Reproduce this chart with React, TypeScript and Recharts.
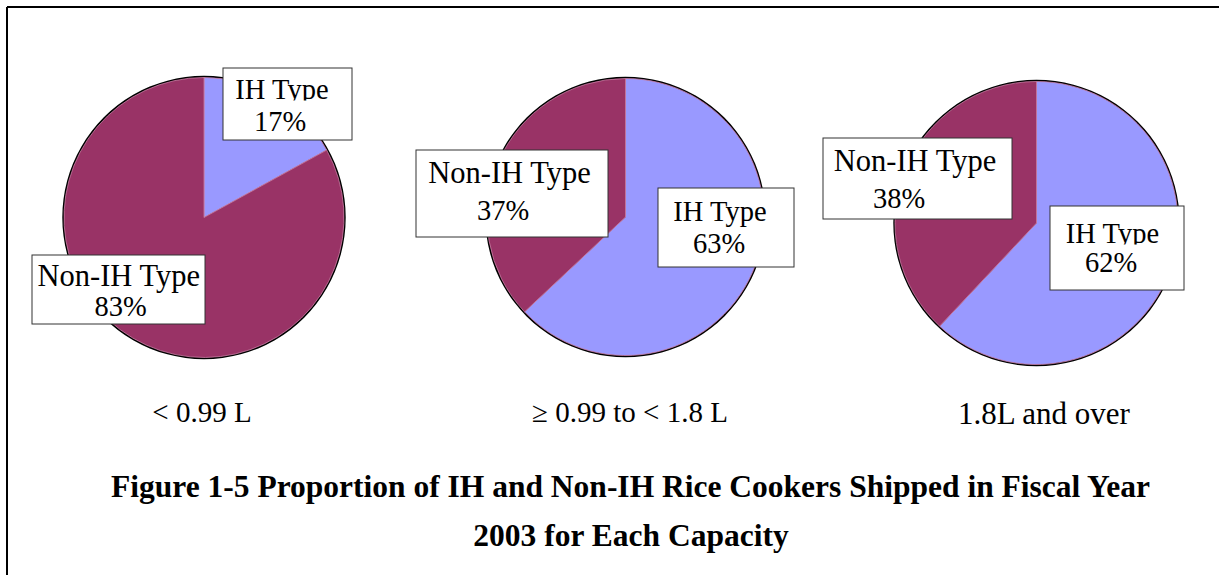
import React from 'react';
import { PieChart, Pie, Cell } from 'recharts';

// ---- data ----
const categories = ['< 0.99 L', '≥ 0.99 to < 1.8 L', '1.8L and over'];
const sliceNames = ['IH Type', 'Non-IH Type'];
const ihShare = [17, 63, 62];
const nonIhShare = [83, 37, 38];
const titleLines = [
  'Figure 1-5 Proportion of IH and Non-IH Rice Cookers Shipped in Fiscal Year',
  '2003 for Each Capacity',
];

// ---- layout / style ----
const W = 1219;
const H = 575;
const COLORS = ['#9999FF', '#993366'];
const FONT = '"Liberation Serif", "Times New Roman", serif';

const PIES = [
  { cx: 204, cy: 217.5, r: 140 },
  { cx: 625.5, cy: 217, r: 138.5 },
  { cx: 1036.5, cy: 223, r: 141.5 },
];
const RING = 1.7;

type Box = {
  x0: number; x1: number; y0: number; y1: number;
  t1: number; t2: number; b1: number; b2: number; clip?: boolean;
};
// label boxes, relative to each pie's centre
const LABEL_BOXES: Box[][] = [
  [
    { x0: 19, x1: 148, y0: -149.5, y1: -77.5, t1: 78, t2: 76, b1: -118.5, b2: -86.5, clip: true },
    { x0: -172, x1: 1, y0: 37.5, y1: 106.5, t1: -85.3, t2: -83.5, b1: 68, b2: 98.5 },
  ],
  [
    { x0: 32.5, x1: 168.5, y0: -29, y1: 50, t1: 94.5, t2: 93.5, b1: 4, b2: 36 },
    { x0: -209.5, x1: -17.5, y0: -67, y1: 20, t1: -116, t2: -122.5, b1: -34, b2: 3 },
  ],
  [
    { x0: 13.5, x1: 147.5, y0: -17, y1: 67, t1: 76, t2: 74.5, b1: 20, b2: 49, clip: true },
    { x0: -213.5, x1: -24.5, y0: -85, y1: -4, t1: -121.5, t2: -137.5, b1: -52, b2: -15 },
  ],
];
const NAME_SIZE = [28.5, 30.5];
const PCT_SIZE = 28.5;
const CAT_LABEL = [
  { x: 202, y: 421.7, size: 29 },
  { x: 630, y: 421.7, size: 29 },
  { x: 1044, y: 424, size: 31 },
];
const TITLE_POS = [
  { x: 630.5, y: 497 },
  { x: 631, y: 546 },
];
const TITLE_SIZE = 31.5;

const makeLabel = (pieIdx: number) => (props: any) => {
  const idx: number = props.index;
  const b = LABEL_BOXES[pieIdx][idx];
  const cx = Number(props.cx);
  const cy = Number(props.cy);
  const clipId = `lblclip-${pieIdx}-${idx}`;
  return (
    <g key={`lbl-${pieIdx}-${idx}`}>
      <rect
        x={cx + b.x0}
        y={cy + b.y0}
        width={b.x1 - b.x0}
        height={b.y1 - b.y0}
        fill="#ffffff"
        stroke="#333333"
        strokeWidth={1}
      />
      {b.clip ? (
        <defs>
          <clipPath id={clipId}>
            <rect x={cx + b.x0} y={cy + b.y0} width={b.x1 - b.x0} height={b.b1 + 1.5 - b.y0} />
          </clipPath>
        </defs>
      ) : null}
      <text
        x={cx + b.t1}
        y={cy + b.b1}
        textAnchor="middle"
        fontFamily={FONT}
        fontSize={NAME_SIZE[idx]}
        fill="#000"
        clipPath={b.clip ? `url(#${clipId})` : undefined}
      >
        {props.name}
      </text>
      <text
        x={cx + b.t2}
        y={cy + b.b2}
        textAnchor="middle"
        fontFamily={FONT}
        fontSize={PCT_SIZE}
        fill="#000"
      >
        {`${props.value}%`}
      </text>
    </g>
  );
};

export default function App() {
  const pieData = categories.map((_, i) => [
    { name: sliceNames[0], value: ihShare[i] },
    { name: sliceNames[1], value: nonIhShare[i] },
  ]);

  return (
    <div style={{ position: 'absolute', left: 0, top: 0, width: W, height: H, background: '#fff' }}>
      <PieChart width={W} height={H} margin={{ top: 0, right: 0, bottom: 0, left: 0 }}>
        {PIES.map((p, i) => (
          <Pie
            key={`ring-${i}`}
            data={[{ name: 'outline', value: 1 }]}
            dataKey="value"
            cx={p.cx}
            cy={p.cy}
            outerRadius={p.r + RING}
            innerRadius={0}
            fill="#000"
            stroke="none"
            isAnimationActive={false}
            label={false}
            labelLine={false}
          />
        ))}
        {PIES.map((p, i) => (
          <Pie
            key={`pie-${i}`}
            data={pieData[i]}
            dataKey="value"
            nameKey="name"
            cx={p.cx}
            cy={p.cy}
            outerRadius={p.r}
            innerRadius={0}
            startAngle={90}
            endAngle={-270}
            stroke="#c97da3"
            strokeWidth={0.8}
            isAnimationActive={false}
            labelLine={false}
            label={makeLabel(i)}
          >
            {pieData[i].map((_, j) => (
              <Cell key={`c-${i}-${j}`} fill={COLORS[j]} />
            ))}
          </Pie>
        ))}
      </PieChart>
      <svg
        width={W}
        height={H}
        style={{ position: 'absolute', left: 0, top: 0, pointerEvents: 'none' }}
      >
        <line x1={7} y1={7} x2={W} y2={7} stroke="#000" strokeWidth={2} />
        <line x1={7} y1={7} x2={7} y2={H} stroke="#000" strokeWidth={2} />
        {categories.map((c, i) => (
          <text
            key={`cat-${i}`}
            x={CAT_LABEL[i].x}
            y={CAT_LABEL[i].y}
            textAnchor="middle"
            fontFamily={FONT}
            fontSize={CAT_LABEL[i].size}
            fill="#000"
          >
            {c}
          </text>
        ))}
        {titleLines.map((t, i) => (
          <text
            key={`title-${i}`}
            x={TITLE_POS[i].x}
            y={TITLE_POS[i].y}
            textAnchor="middle"
            fontFamily={FONT}
            fontWeight="bold"
            fontSize={TITLE_SIZE}
            fill="#000"
          >
            {t}
          </text>
        ))}
      </svg>
    </div>
  );
}
